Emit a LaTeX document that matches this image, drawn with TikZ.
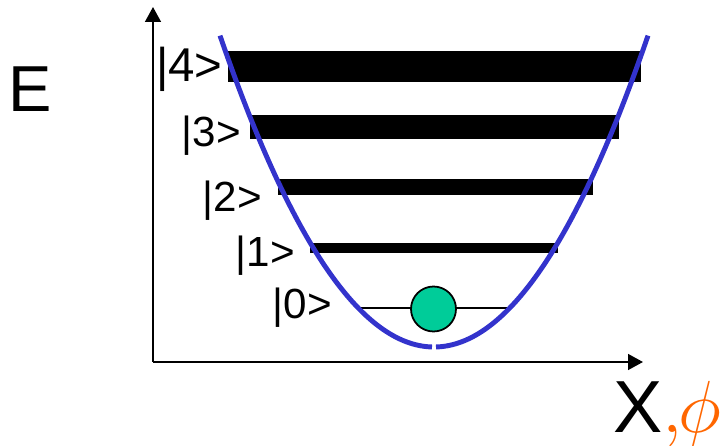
\RequirePackage{fix-cm}
\documentclass[tikz,border=0pt]{standalone}
\usepackage{fontspec}
\setmainfont{Liberation Sans}
\usetikzlibrary{arrows.meta}
\definecolor{wellblue}{RGB}{51,51,204}
\definecolor{ballgreen}{RGB}{0,204,153}
\definecolor{phiorange}{RGB}{255,102,0}
\tikzset{
  axisline/.style={line width=1.1pt,-{Triangle[length=8.5pt,width=9pt]}},
  well/.style={wellblue,line width=2.8pt},
  levelbar/.style={fill=black,draw=none},
  statelabel/.style={anchor=base east,inner sep=0pt,font=\fontsize{24}{28}\selectfont},
}
\begin{document}
\begin{tikzpicture}[x=0.02cm,y=-0.02cm]
\useasboundingbox (0,0) rectangle (725,446);
% axes
\coordinate (origin) at (153,362);
\coordinate (ytip) at (153,7);
\coordinate (xtip) at (643,362);
\draw[axisline] (origin) -- (ytip);
\draw[axisline] (origin) -- (xtip);
% energy levels
\fill[levelbar] (228,51) rectangle (641,82);
\fill[levelbar] (250,115) rectangle (619,139);
\fill[levelbar] (278,179) rectangle (593,195);
\fill[levelbar] (310,243) rectangle (558,253);
\coordinate (l0a) at (360,308);
\coordinate (l0b) at (512,308);
\draw[line width=1.2pt] (l0a) -- (l0b);
% potential well
\draw[well] plot[domain=220:432,samples=80] (\x,{347-(0.08246*(\x-434))^2});
\draw[well] plot[domain=436:648,samples=80] (\x,{347-(0.08246*(\x-434))^2});
% ball
\node (ball) [circle,draw=black,line width=1pt,fill=ballgreen,minimum size=45*0.02cm,inner sep=0pt] at (433.5,309) {};
% labels
\node (s4) [statelabel,font=\fontsize{27}{32}\selectfont] at (223,82) {|4>};
\node (s3) [statelabel] at (241,147) {|3>};
\node (s2) [statelabel] at (262,212) {|2>};
\node (s1) [statelabel] at (295,267) {|1>};
\node (s0) [statelabel] at (332,319) {|0>};
\node (E) [anchor=base west,inner sep=0pt,font=\fontsize{37}{44}\selectfont] at (8,112) {E};
\node (X) [anchor=base west,inner sep=0pt,font=\fontsize{42}{50}\selectfont] at (613,433) {X\textcolor{phiorange}{$\mathord{,}\mkern-1mu\phi$}};
\end{tikzpicture}
\end{document}
